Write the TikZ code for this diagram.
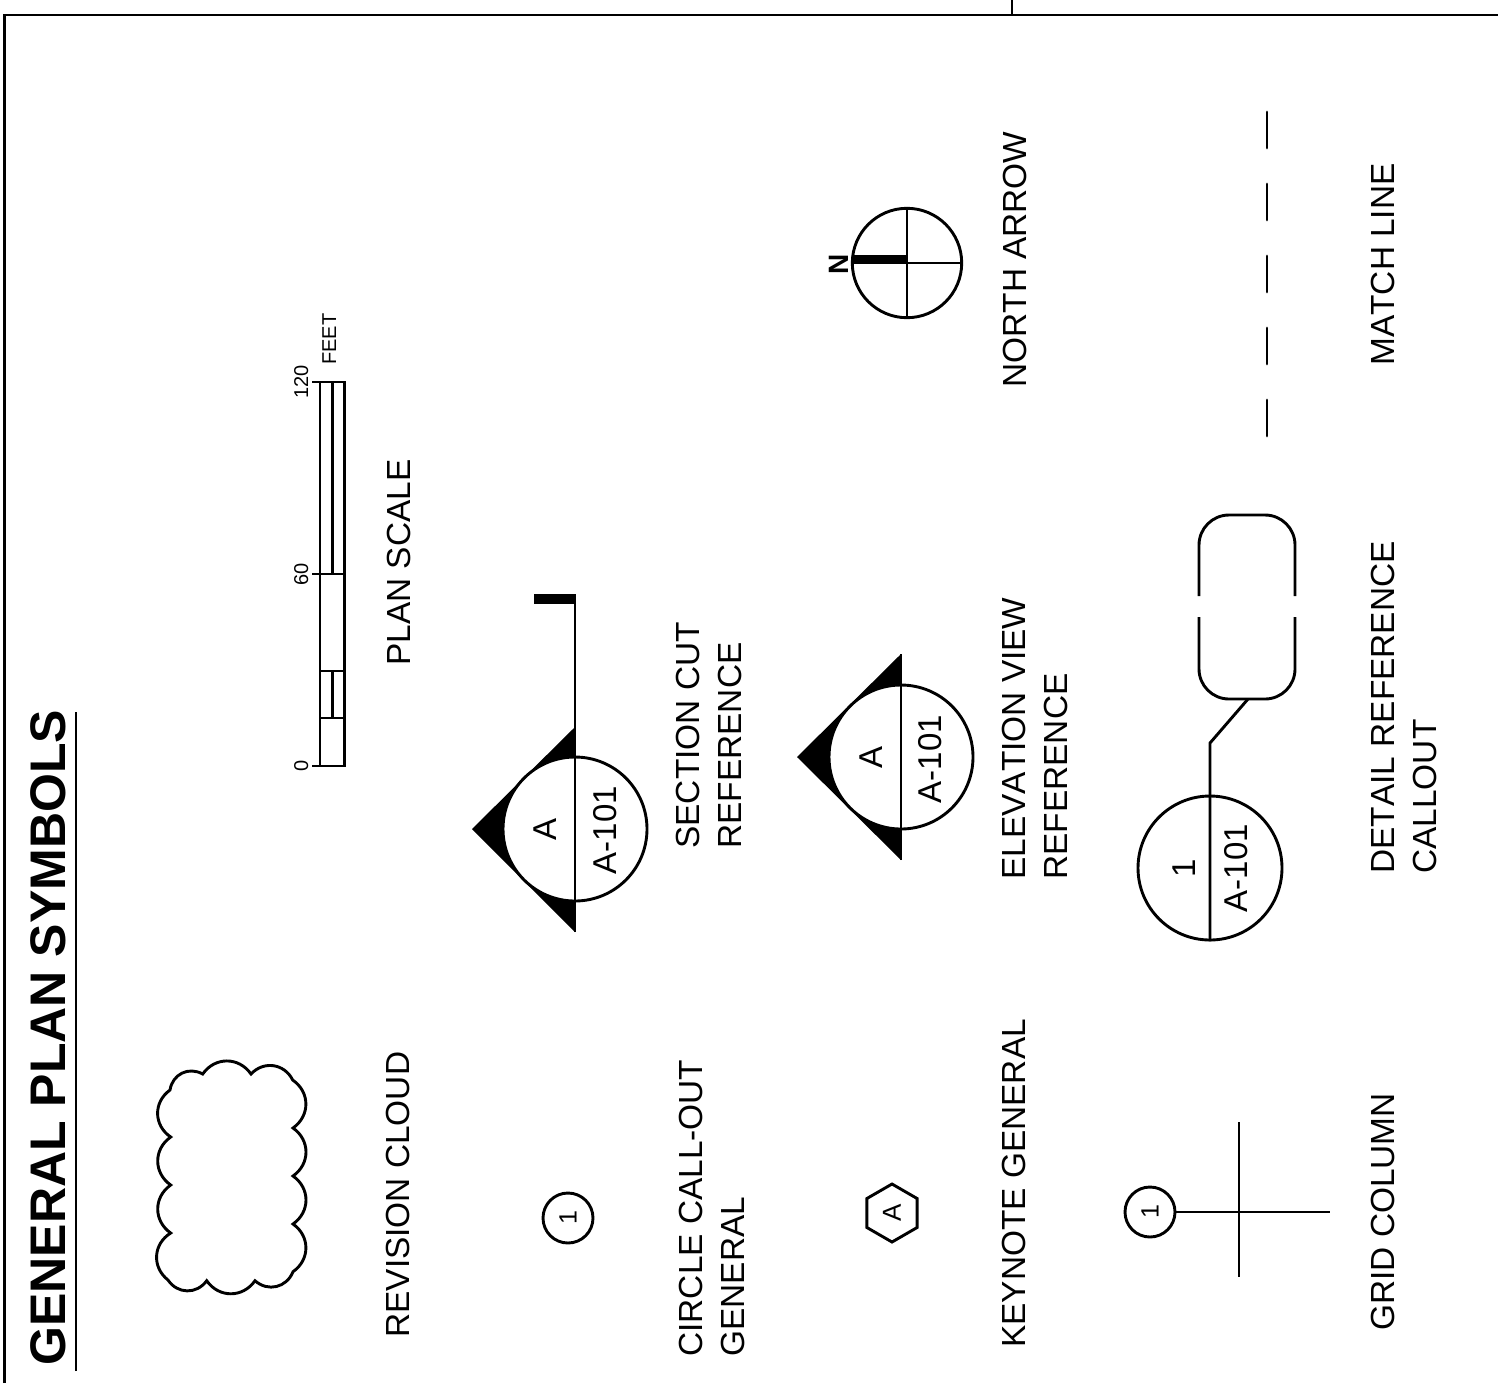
\documentclass[tikz,border=0pt]{standalone}
\usepackage{fontspec}
\setmainfont[Kerning=Off]{Liberation Sans}
\usetikzlibrary{%
    shapes.geometric%
}

\begin{document}
\begin{tikzpicture}[x=0.5pt,y=-0.5pt,line width=1.45pt,
    lbl/.style={rotate=90,inner sep=0pt,anchor=base west,
        font={\fontsize{16.7}{21}\selectfont}},
    lbltwo/.style={rotate=90,inner sep=0pt,anchor=north west,align=left,
        font={\fontsize{16.7}{21}\selectfont}},
    small/.style={rotate=90,inner sep=0pt,font={\fontsize{10}{12}\selectfont}},
    inbub/.style={rotate=90,inner sep=0pt,font={\fontsize{16.5}{20}\selectfont}},
    bub/.style={draw,circle,fill=white,inner sep=0pt,minimum size=72pt},
    tinybub/.style={draw,circle,inner sep=0pt,minimum size=25pt,rotate=90,
        font={\fontsize{12.5}{15}\selectfont}},
    lobe/.style={bend left=55,looseness=1.13}]
\useasboundingbox (0,0) rectangle (1498,1383);
\draw (4.5,1383)--(4.5,15)--(1498,15);
\draw (1012,0)--(1012,15);

\node[rotate=90,inner sep=0pt,anchor=base west,
    font={\fontsize{25}{30}\selectfont\bfseries}] (title) at (65,1367) {GENERAL PLAN SYMBOLS};
\draw (76,1371)--(76,712);

% cloud
\draw (202.7,1074) to[lobe] (251,1074) to[lobe] (292.7,1080)
    to[lobe] (293,1128) to[lobe] (293,1176) to[lobe] (293,1224)
    to[lobe] (293,1271.7) to[lobe] (255,1280.7) to[lobe] (206.7,1280.7)
    to[lobe] (168,1280) to[lobe] (170.7,1233) to[lobe] (170.7,1185)
    to[lobe] (170.7,1137) to[lobe] (170,1090) to[lobe] cycle;
\node[lbl] (cloudtxt) at (409,1339) {REVISION CLOUD};

% scale
\draw (320,382) rectangle (344.5,766);
\draw (332.5,382)--(332.5,574) (332.5,671)--(332.5,718);
\draw (312,382)--(344.5,382) (312,574)--(344.5,574) (320,671)--(344.5,671)
    (320,718)--(344.5,718) (312,766)--(320,766);
\node[small,anchor=base] (sc0) at (308,766) {0};
\node[small,anchor=base] (sc60) at (308,574) {60};
\node[small,anchor=base] (sc120) at (308,382) {120};
\node[small,anchor=base west] (feet) at (336,366) {FEET};
\node[lbl] (scaletxt) at (410,667) {PLAN SCALE};

% section cut
\fill (472,829)--(575,727)--(575,932)--cycle;
\fill (534,594) rectangle (575.5,604);
\node[bub] (secbub) at (575,829) {};
\draw (575,594)--(575,932);
\node[inbub] (secA) at (545,829) {A};
\node[inbub] (secref) at (605,830) {A-101};
\node[lbltwo] (sectxt) at (675,850) {SECTION CUT\\REFERENCE};

% elevation
\fill (797,757)--(901,654)--(901,860)--cycle;
\node[bub] (elvbub) at (901,757) {};
\draw (901,654)--(901,860);
\node[inbub] (elvA) at (871,757) {A};
\node[inbub] (elvref) at (930,759) {A-101};
\node[lbltwo] (elvtxt) at (1001,881) {ELEVATION VIEW\\REFERENCE};

% north arrow
\node[bub,minimum size=54.7pt] (nbub) at (907,263) {};
\draw (nbub.north)--(nbub.south) (nbub.west)--(nbub.east);
\fill (853,255) rectangle (907,263.5);
\node[rotate=90,inner sep=0pt,font={\fontsize{14}{16}\selectfont\bfseries}] (ntxt) at (839,264) {N};
\node[lbl] (ntxtb) at (1026,389) {NORTH ARROW};

% detail
\node[bub] (detbub) at (1210,868) {};
\coordinate (detkink) at (1210,743);
\coordinate (dettop) at (1248,699);
\draw (detbub.south)--(detbub.north)--(detkink)--(dettop);
\node[inbub] (det1) at (1184,868) {1};
\node[inbub] (detref) at (1236,868) {A-101};
\draw[rounded corners=15pt] (1199,596)--(1199,515)--(1295,515)--(1295,596);
\draw[rounded corners=15pt] (1199,617)--(1199,699)--(1295,699)--(1295,617);
\node[lbltwo] (dettxt) at (1370,875) {DETAIL REFERENCE\\CALLOUT};

% match line
\foreach \ya in {112,184,256,328,400}
    \draw[line cap=round] (1267,\ya)--(1267,\ya+36);
\node[lbl] (matchtxt) at (1394,367) {MATCH LINE};

% left column
\node[tinybub] (callbub) at (568,1218) {1};
\node[lbltwo] (calltxt) at (678,1358) {CIRCLE CALL-OUT\\GENERAL};
\node[draw,regular polygon,regular polygon sides=6,shape border rotate=30,inner sep=0pt,minimum size=29pt] (keyhex) at (892,1213) {};
\node[rotate=90,inner sep=0pt,font={\fontsize{13}{15}\selectfont}] (keyA) at (keyhex) {A};
\node[lbl] (keytxt) at (1025,1349) {KEYNOTE GENERAL};
\node[tinybub] (gridbub) at (1150,1212) {1};
\coordinate (gridend) at (1330,1212);
\coordinate (gridtop) at (1239,1122);
\coordinate (gridbot) at (1239,1277);
\draw (gridbub)--(gridend);
\draw (gridtop)--(gridbot);
\node[lbl] (gridtxt) at (1394,1332) {GRID COLUMN};
\end{tikzpicture}
\end{document}
